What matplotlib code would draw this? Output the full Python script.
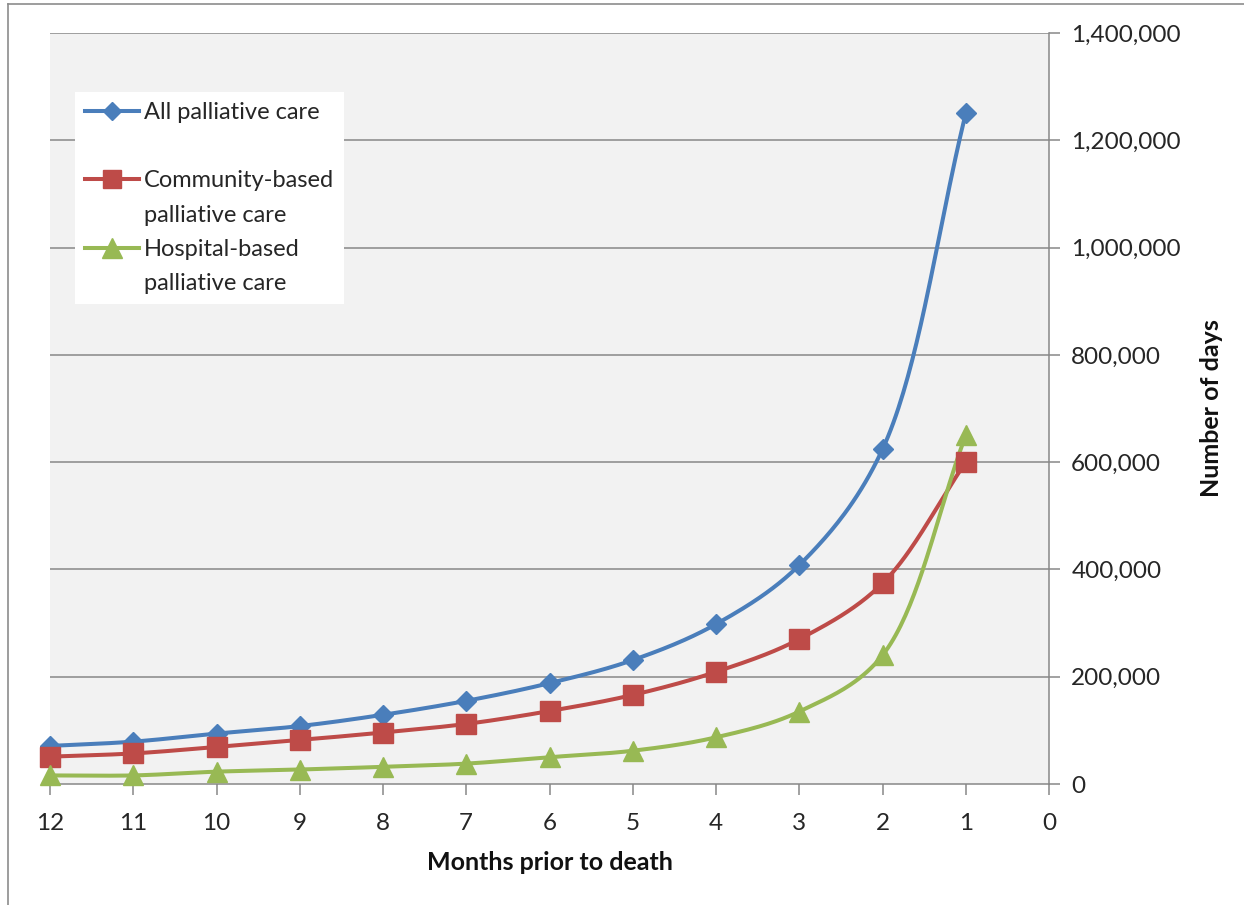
import numpy as np
import matplotlib
matplotlib.use("Agg")
import matplotlib.pyplot as plt
from matplotlib.lines import Line2D
from matplotlib.ticker import FuncFormatter

months = [12, 11, 10, 9, 8, 7, 6, 5, 4, 3, 2, 1]
all_care = [71000, 79000, 94000, 108000, 129000, 155000, 188000, 231000, 298000, 408000, 624000, 1250000]
community = [51000, 57000, 69000, 82000, 96000, 112000, 136000, 166000, 209000, 270000, 374000, 600000]
hospital = [16000, 16000, 23000, 27000, 32000, 38000, 50000, 62000, 87000, 135000, 240000, 650000]
labels = ["All palliative care", "Community-based\npalliative care", "Hospital-based\npalliative care"]
colors = ["#4A7EBB", "#BE4B48", "#98B954"]
markers = ["D", "s", "^"]
msizes = [10, 14, 15]
yticks = [0, 200000, 400000, 600000, 800000, 1000000, 1200000, 1400000]
xticks = list(range(0, 13))

# screen scale (pixels per unit) used only for the smoothing parameterisation
XS = 999 / 12.0
YS = 751 / 1400000.0


def smooth(x, y, n=40, alpha=0.5):
    P = np.column_stack([np.asarray(x, float) * XS, np.asarray(y, float) * YS])
    P = np.vstack([2 * P[0] - P[1], P, 2 * P[-1] - P[-2]])
    d = np.linalg.norm(np.diff(P, axis=0), axis=1) ** alpha
    d[d == 0] = 1e-9
    t = np.linspace(0, 1, n)
    out = []
    for i in range(1, len(P) - 2):
        p0, p1, p2, p3 = P[i - 1], P[i], P[i + 1], P[i + 2]
        d0, d1, d2 = d[i - 1], d[i], d[i + 1]
        m1 = (p1 - p0) / d0 - (p2 - p0) / (d0 + d1) + (p2 - p1) / d1
        m2 = (p2 - p1) / d1 - (p3 - p1) / (d1 + d2) + (p3 - p2) / d2
        c1 = p1 + m1 * d1 / 3.0
        c2 = p2 - m2 * d1 / 3.0
        b = ((1 - t) ** 3)[:, None] * p1 + (3 * (1 - t) ** 2 * t)[:, None] * c1 \
            + (3 * (1 - t) * t ** 2)[:, None] * c2 + (t ** 3)[:, None] * p2
        out.append(b)
    out = np.vstack(out)
    return out[:, 0] / XS, out[:, 1] / YS


plt.rcParams['font.family'] = ['Lato', 'DejaVu Sans']
fig = plt.figure(figsize=(12.44, 9.05), dpi=100)
fig.patch.set_facecolor("white")
ax = fig.add_axes([50 / 1244, 1 - 784 / 905, (1049 - 50) / 1244, (784 - 33) / 905])
ax.set_facecolor("#F2F2F2")

for yt in yticks[1:]:
    ax.axhline(yt, color="#878787", lw=1.1, zorder=1)

series = [all_care, community, hospital]
for vals, lab, c, m, ms in zip(series, labels, colors, markers, msizes):
    sx, sy = smooth(months, vals)
    ax.plot(sx, sy, color=c, lw=2.9, zorder=3, solid_capstyle="round")
    ax.plot(months, vals, linestyle="none", marker=m, color=c, markersize=ms,
            markeredgecolor=c, zorder=4, clip_on=False)

ax.set_xlim(12, 0)
ax.set_ylim(0, 1400000)
ax.set_xticks(xticks)
ax.set_yticks(yticks)
ax.yaxis.tick_right()
ax.yaxis.set_label_position("right")
ax.yaxis.set_major_formatter(FuncFormatter(lambda v, p: f"{int(v):,}"))
for s in ["top", "left"]:
    ax.spines[s].set_visible(False)
for s in ["bottom", "right"]:
    ax.spines[s].set_color("#878787")
    ax.spines[s].set_linewidth(1.1)
ax.tick_params(axis="x", direction="out", length=8, width=1.1, color="#878787",
               labelsize=17.5, labelcolor="#262626", pad=13)
ax.tick_params(axis="y", direction="out", length=8, width=1.1, color="#878787",
               labelsize=17.5, labelcolor="#262626", pad=8)
ax.set_xlabel("Months prior to death", fontsize=18, fontweight="bold", labelpad=12,
              color="#111111")
ax.set_ylabel("Number of days", fontsize=18, fontweight="bold", labelpad=14,
              color="#111111")

# legend rows: marker aligned with first line of each label
leg_handles, leg_labels = [], []
for i, (lab, c, m, ms) in enumerate(zip(labels, colors, markers, msizes)):
    lines = lab.split("\n")
    leg_handles.append(Line2D([], [], color=c, lw=2.9, marker=m, markersize=ms * 0.95,
                              markeredgecolor=c))
    leg_labels.append(lines[0])
    for extra in lines[1:]:
        leg_handles.append(Line2D([], [], linestyle="none", marker=None))
        leg_labels.append(extra)
    if i == 0:
        leg_handles.append(Line2D([], [], linestyle="none", marker=None))
        leg_labels.append(" ")

leg = ax.legend(leg_handles, leg_labels, loc="upper left",
                bbox_to_anchor=(25 / 999, 1 - 59 / 751), borderaxespad=0,
                frameon=True, fancybox=False, framealpha=1, edgecolor="white",
                fontsize=17, handlelength=2.3, handletextpad=0.2, labelspacing=0.56,
                borderpad=0.42)
leg.get_frame().set_linewidth(0)
leg.set_zorder(6)
for t in leg.get_texts():
    t.set_color("#262626")

fig.add_artist(Line2D([8 / 1244, 8 / 1244], [0, 1 - 4 / 905], color="#8C8C8C", lw=1.2))
fig.add_artist(Line2D([8 / 1244, 1], [1 - 4 / 905, 1 - 4 / 905], color="#8C8C8C", lw=1.2))

fig.savefig("out.png", dpi=100)
